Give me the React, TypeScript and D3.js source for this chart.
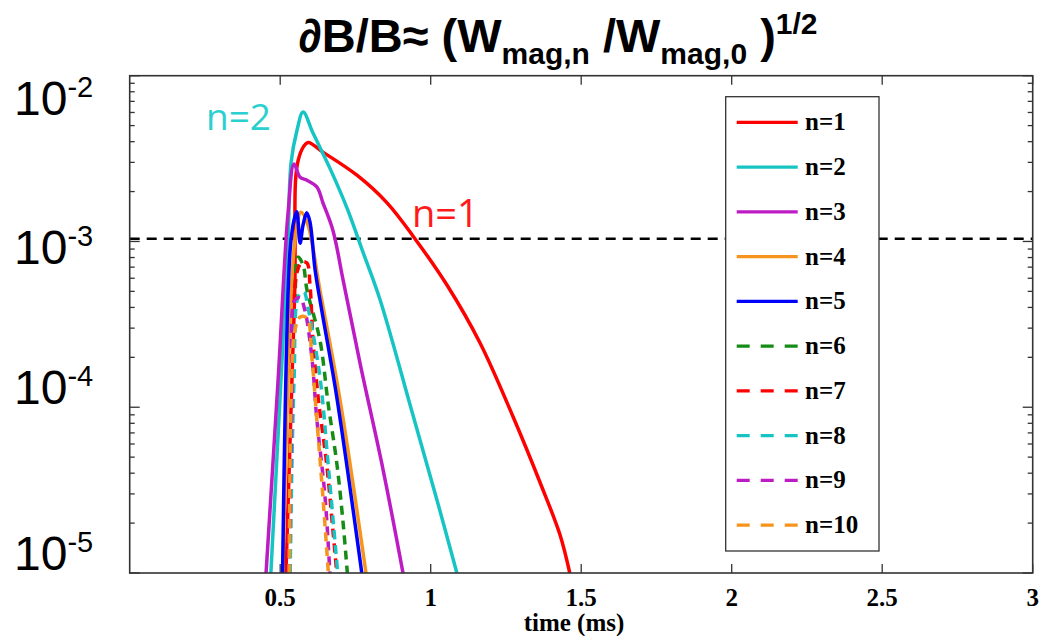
import React from "react";
import * as d3 from "d3";

// ---- data (time in ms, value dB/B) ----
const n1T = [0.519, 0.539, 0.549, 0.551, 0.560, 0.577, 0.593, 0.642, 0.755, 0.855, 0.941, 1.054, 1.164, 1.274, 1.364, 1.430, 1.462];
const n1V = [1e-5, 1.46e-4, 5.85e-4, 2.34e-3, 3.10e-3, 3.72e-3, 3.96e-3, 3.46e-3, 2.51e-3, 1.71e-3, 1.08e-3, 5.46e-4, 2.44e-4, 8.73e-5, 3.49e-5, 1.69e-5, 1e-5];
const n2T = [0.469, 0.499, 0.526, 0.536, 0.556, 0.576, 0.609, 0.665, 0.722, 0.775, 0.832, 0.941, 1.021, 1.087];
const n2V = [1e-5, 1.10e-4, 1.02e-3, 2.97e-3, 4.70e-3, 6.03e-3, 4.51e-3, 2.77e-3, 1.59e-3, 8.63e-4, 4.44e-4, 8.97e-5, 2.75e-5, 1e-5];
const n3T = [0.453, 0.493, 0.526, 0.546, 0.566, 0.589, 0.622, 0.642, 0.675, 0.709, 0.765, 0.842, 0.908];
const n3V = [1e-5, 1.46e-4, 1.48e-3, 2.93e-3, 2.44e-3, 2.34e-3, 2.13e-3, 1.71e-3, 1.17e-3, 5.85e-4, 1.85e-4, 4.18e-5, 1e-5];
const n4T = [0.509, 0.549, 0.569, 0.592, 0.632, 0.699, 0.785];
const n4V = [1e-5, 1.02e-3, 1.50e-3, 1.26e-3, 5.09e-4, 1.10e-4, 1e-5];
const n5T = [0.508, 0.533, 0.546, 0.555, 0.566, 0.576, 0.588, 0.599, 0.616, 0.638, 0.688, 0.771];
const n5V = [1e-5, 8.87e-4, 1.35e-3, 1.51e-3, 9.77e-4, 1.26e-3, 1.49e-3, 1.31e-3, 6.73e-4, 3.85e-4, 1.15e-4, 1e-5];
const n6T = [0.531, 0.539, 0.549, 0.559, 0.576, 0.589, 0.632, 0.659, 0.688, 0.709, 0.723];
const n6V = [1e-5, 8.38e-5, 4.44e-4, 8.05e-4, 7.21e-4, 5.09e-4, 2.54e-4, 1.06e-4, 4.60e-5, 2.00e-5, 1e-5];
const n7T = [0.533, 0.543, 0.556, 0.572, 0.589, 0.599, 0.609, 0.626, 0.654, 0.675, 0.688];
const n7V = [1e-5, 2.92e-4, 6.53e-4, 7.52e-4, 7.41e-4, 5.46e-4, 2.54e-4, 1.15e-4, 4.60e-5, 1.82e-5, 1e-5];
const n8T = [0.533, 0.546, 0.562, 0.579, 0.592, 0.632, 0.659, 0.691];
const n8V = [1e-5, 1.46e-4, 4.75e-4, 4.95e-4, 4.02e-4, 1.52e-4, 4.60e-5, 1e-5];
const n9T = [0.529, 0.539, 0.549, 0.566, 0.582, 0.606, 0.621, 0.649, 0.665];
const n9V = [1e-5, 1.10e-4, 4.44e-4, 4.56e-4, 3.85e-4, 1.93e-4, 8.73e-5, 2.87e-5, 1e-5];
const n10T = [0.530, 0.538, 0.549, 0.566, 0.589, 0.605, 0.621, 0.642, 0.660];
const n10V = [1e-5, 1.46e-4, 2.92e-4, 3.50e-4, 3.45e-4, 2.01e-4, 8.73e-5, 2.87e-5, 1e-5];

const SERIES_NAMES = ["n=1", "n=2", "n=3", "n=4", "n=5", "n=6", "n=7", "n=8", "n=9", "n=10"];
const SERIES_T = [n1T, n2T, n3T, n4T, n5T, n6T, n7T, n8T, n9T, n10T];
const SERIES_V = [n1V, n2V, n3V, n4V, n5V, n6V, n7V, n8V, n9V, n10V];
const SERIES_COLORS = ["#ff0000", "#17c4c4", "#bd1cc4", "#f7941d", "#0000ff", "#158c15", "#ff0000", "#17c4c4", "#bd1cc4", "#f7941d"];
const SERIES_DASHED = [false, false, false, false, false, true, true, true, true, true];

const X_TICKS = [0.5, 1, 1.5, 2, 2.5, 3];
const X_TICK_LABELS = ["0.5", "1", "1.5", "2", "2.5", "3"];
const Y_DECADES = [1e-5, 1e-4, 1e-3, 1e-2];
const Y_LABEL_EXP = ["-5", "-4", "-3", "-2"];
const THRESHOLD = 1.04e-3;

// ---- layout ----
const W = 1040, H = 636;
const PX0 = 129.7, PX1 = 1032.7, PY0 = 75.7, PY1 = 573;
const Y_LABEL_BASELINES = [570, 404, 264, 115];

export default function App() {
  const x = d3.scaleLinear().domain([0, 3]).range([PX0, PX1]);
  const y = d3.scaleLog().domain([1e-5, 1e-2]).range([PY1, PY0]);
  const line = d3
    .line<[number, number]>()
    .x((d) => x(d[0]))
    .y((d) => y(d[1]))
    .curve(d3.curveCatmullRom.alpha(0.5));

  const minor: number[] = [];
  Y_DECADES.slice(0, 3).forEach((d) => {
    for (let k = 2; k <= 9; k++) minor.push(d * k);
  });

  const serif = "'Liberation Serif', 'Times New Roman', serif";
  const sans = "'Liberation Sans', Arial, sans-serif";
  const axisColor = "#333";

  const legX0 = 725.7, legX1 = 879, legY0 = 96.7, legY1 = 551;
  const rowY = (i: number) => 122.3 + i * 44.75;

  return (
    <svg width={W} height={H} style={{ position: "absolute", left: 0, top: 0, background: "#fff" }}>
      <defs>
        <clipPath id="plotclip">
          <rect x={PX0} y={PY0} width={PX1 - PX0} height={PY1 - PY0} />
        </clipPath>
      </defs>
      <rect x={0} y={0} width={W} height={H} fill="#fff" />

      {/* title */}
      <text x={558} y={52} textAnchor="middle" fontFamily={sans} fontWeight="bold" fontSize={47} fill="#000">
        <tspan>∂B/B≈ (W</tspan>
        <tspan fontSize={30} dy={12}>mag,n</tspan>
        <tspan dy={-12}> /W</tspan>
        <tspan fontSize={30} dy={12}>mag,0</tspan>
        <tspan dy={-12}> )</tspan>
        <tspan fontSize={30} dy={-18}>1/2</tspan>
      </text>

      {/* curves */}
      <g clipPath="url(#plotclip)">
        <line x1={PX0} x2={PX1} y1={y(THRESHOLD)} y2={y(THRESHOLD)} stroke="#000" strokeWidth={2.5} strokeDasharray="10,7" />
        {SERIES_T.map((ts, i) => (
          <path
            key={i}
            d={line(ts.map((t, j) => [t, SERIES_V[i][j]] as [number, number])) || ""}
            fill="none"
            stroke={SERIES_COLORS[i]}
            strokeWidth={3.5}
            strokeDasharray={SERIES_DASHED[i] ? "9,6" : undefined}
            strokeLinejoin="round"
          />
        ))}
      </g>

      {/* axes box */}
      <rect x={PX0} y={PY0} width={PX1 - PX0} height={PY1 - PY0} fill="none" stroke={axisColor} strokeWidth={1.6} />
      {X_TICKS.map((t, i) => (
        <g key={"xt" + i}>
          <line x1={x(t)} x2={x(t)} y1={PY1} y2={PY1 - 9} stroke={axisColor} strokeWidth={1.3} />
          <line x1={x(t)} x2={x(t)} y1={PY0} y2={PY0 + 9} stroke={axisColor} strokeWidth={1.3} />
          <text x={x(t)} y={606} textAnchor="middle" fontFamily={serif} fontWeight="bold" fontSize={25} fill="#000">
            {X_TICK_LABELS[i]}
          </text>
        </g>
      ))}
      {Y_DECADES.map((d, i) => (
        <g key={"yt" + i}>
          <line x1={PX0} x2={PX0 + 10} y1={y(d)} y2={y(d)} stroke={axisColor} strokeWidth={1.3} />
          <line x1={PX1} x2={PX1 - 10} y1={y(d)} y2={y(d)} stroke={axisColor} strokeWidth={1.3} />
        </g>
      ))}
      {minor.map((d, i) => (
        <g key={"ym" + i}>
          <line x1={PX0} x2={PX0 + 5} y1={y(d)} y2={y(d)} stroke={axisColor} strokeWidth={1.3} />
          <line x1={PX1} x2={PX1 - 5} y1={y(d)} y2={y(d)} stroke={axisColor} strokeWidth={1.3} />
        </g>
      ))}
      <text x={574} y={631} textAnchor="middle" fontFamily={serif} fontWeight="bold" fontSize={25} fill="#000">
        time (ms)
      </text>

      {/* y labels */}
      {Y_DECADES.map((d, i) => (
        <text key={"yl" + i} x={14} y={Y_LABEL_BASELINES[i]} fontFamily={sans} fontSize={48} fill="#000">
          <tspan>10</tspan>
          <tspan fontSize={29} dy={-18}>{Y_LABEL_EXP[i]}</tspan>
        </text>
      ))}

      {/* annotations */}
      <text x={206} y={130} fontFamily="'Open Sans', sans-serif" fontSize={37} fill="#2ad0d0">n=2</text>
      <text x={412} y={227} fontFamily="'Open Sans', sans-serif" fontSize={38} fill="#ff1a1a">n=1</text>

      {/* legend */}
      <rect x={legX0} y={legY0} width={legX1 - legX0} height={legY1 - legY0} fill="#fff" stroke={axisColor} strokeWidth={1.3} />
      {SERIES_NAMES.map((name, i) => (
        <g key={"lg" + i}>
          <line x1={736.7} x2={797.7} y1={rowY(i)} y2={rowY(i)} stroke={SERIES_COLORS[i]} strokeWidth={3.2}
            strokeDasharray={SERIES_DASHED[i] ? "13,11" : undefined} />
          <text x={805} y={rowY(i) + 8} fontFamily={serif} fontWeight="bold" fontSize={25} fill="#000">{name}</text>
        </g>
      ))}
    </svg>
  );
}
